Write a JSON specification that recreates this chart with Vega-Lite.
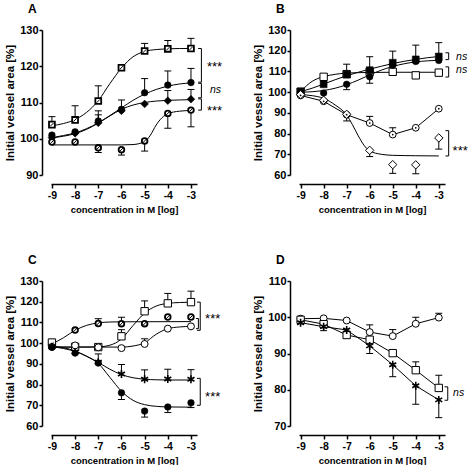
{
"$schema":"https://vega.github.io/schema/vega-lite/v6.json",
"padding":{"left":4,"top":3,"right":0,"bottom":0},
"background":"white",
"bounds":"flush",
"columns":2,
"spacing":{"row":106,"column":102},
"config":{
 "view":{"stroke":null},
 "font":"Liberation Sans",
 "axis":{"grid":false,"domainColor":"black","domainWidth":1.5,"tickColor":"black","tickWidth":1.5,"tickSize":4,"labelColor":"black","labelFont":"Liberation Sans","labelFontWeight":"bold","titleColor":"black","titleFont":"Liberation Sans","titleFontWeight":"bold","offset":9,"labelPadding":2,"labelFlush":false,"labelOverlap":false},
 "axisX":{"labelFontSize":10.5,"titleFontSize":9.5,"titlePadding":4,"labelAngle":0},
 "axisY":{"labelFontSize":11,"titleFontSize":11.5,"titlePadding":4,"tickSize":3,"labelPadding":1},
 "title":{"font":"Liberation Sans","fontSize":12,"fontWeight":"bold","anchor":"start","frame":"group","color":"black"}
},
"datasets":{
"points":[
{"panel":"A","marker":"bold open square","x":-9,"y":103.9,"cap":106.1},
{"panel":"A","marker":"bold open square","x":-8,"y":105.2,"cap":109.1},
{"panel":"A","marker":"bold open square","x":-7,"y":110.4,"cap":114.6},
{"panel":"A","marker":"bold open square","x":-6,"y":119.6,"cap":null},
{"panel":"A","marker":"bold open square","x":-5,"y":124.2,"cap":126.3},
{"panel":"A","marker":"bold open square","x":-4,"y":124.8,"cap":127.1},
{"panel":"A","marker":"bold open square","x":-3,"y":124.9,"cap":127.7},
{"panel":"A","marker":"filled circle","x":-9,"y":101.0,"cap":null},
{"panel":"A","marker":"filled circle","x":-8,"y":101.9,"cap":null},
{"panel":"A","marker":"filled circle","x":-7,"y":104.9,"cap":107.7},
{"panel":"A","marker":"filled circle","x":-6,"y":108.1,"cap":110.7},
{"panel":"A","marker":"filled circle","x":-5,"y":112.7,"cap":116.6},
{"panel":"A","marker":"filled circle","x":-4,"y":114.8,"cap":118.7},
{"panel":"A","marker":"filled circle","x":-3,"y":115.5,"cap":119.4},
{"panel":"A","marker":"filled diamond","x":-9,"y":100.3,"cap":null},
{"panel":"A","marker":"filled diamond","x":-8,"y":101.5,"cap":null},
{"panel":"A","marker":"filled diamond","x":-7,"y":104.4,"cap":106.6},
{"panel":"A","marker":"filled diamond","x":-6,"y":107.7,"cap":null},
{"panel":"A","marker":"filled diamond","x":-5,"y":109.6,"cap":null},
{"panel":"A","marker":"filled diamond","x":-4,"y":110.5,"cap":113.3},
{"panel":"A","marker":"filled diamond","x":-3,"y":110.9,"cap":113.6},
{"panel":"A","marker":"bold open circle","x":-9,"y":99.1,"cap":null},
{"panel":"A","marker":"bold open circle","x":-8,"y":99.1,"cap":null},
{"panel":"A","marker":"bold open circle","x":-7,"y":97.5,"cap":96.2},
{"panel":"A","marker":"bold open circle","x":-6,"y":97.0,"cap":95.5},
{"panel":"A","marker":"bold open circle","x":-5,"y":99.4,"cap":96.6},
{"panel":"A","marker":"bold open circle","x":-4,"y":107.0,"cap":102.9},
{"panel":"A","marker":"bold open circle","x":-3,"y":107.9,"cap":103.3},
{"panel":"B","marker":"open square","x":-9,"y":100.2,"cap":null},
{"panel":"B","marker":"open square","x":-8,"y":107.4,"cap":null},
{"panel":"B","marker":"open square","x":-7,"y":108.7,"cap":null},
{"panel":"B","marker":"open square","x":-6,"y":109.8,"cap":null},
{"panel":"B","marker":"open square","x":-5,"y":109.8,"cap":null},
{"panel":"B","marker":"open square","x":-4,"y":108.1,"cap":null},
{"panel":"B","marker":"open square","x":-3,"y":109.4,"cap":null},
{"panel":"B","marker":"filled square","x":-9,"y":100.3,"cap":null},
{"panel":"B","marker":"filled square","x":-8,"y":103.8,"cap":null},
{"panel":"B","marker":"filled square","x":-7,"y":108.5,"cap":113.5},
{"panel":"B","marker":"filled square","x":-6,"y":110.6,"cap":117.1},
{"panel":"B","marker":"filled square","x":-5,"y":114.2,"cap":119.8},
{"panel":"B","marker":"filled square","x":-4,"y":115.8,"cap":122.7},
{"panel":"B","marker":"filled square","x":-3,"y":117.2,"cap":123.9},
{"panel":"B","marker":"filled circle","x":-9,"y":99.6,"cap":null},
{"panel":"B","marker":"filled circle","x":-8,"y":99.6,"cap":null},
{"panel":"B","marker":"filled circle","x":-7,"y":103.8,"cap":101.2},
{"panel":"B","marker":"filled circle","x":-6,"y":107.4,"cap":104.3},
{"panel":"B","marker":"filled circle","x":-5,"y":113.0,"cap":null},
{"panel":"B","marker":"filled circle","x":-4,"y":114.8,"cap":null},
{"panel":"B","marker":"filled circle","x":-3,"y":115.3,"cap":null},
{"panel":"B","marker":"dotted open circle","x":-9,"y":98.4,"cap":null},
{"panel":"B","marker":"dotted open circle","x":-8,"y":95.6,"cap":null},
{"panel":"B","marker":"dotted open circle","x":-7,"y":89.1,"cap":null},
{"panel":"B","marker":"dotted open circle","x":-6,"y":85.1,"cap":88.3},
{"panel":"B","marker":"dotted open circle","x":-5,"y":79.5,"cap":82.8},
{"panel":"B","marker":"dotted open circle","x":-4,"y":82.8,"cap":null},
{"panel":"B","marker":"dotted open circle","x":-3,"y":92.0,"cap":null},
{"panel":"B","marker":"open diamond","x":-9,"y":98.8,"cap":null},
{"panel":"B","marker":"open diamond","x":-8,"y":96.1,"cap":null},
{"panel":"B","marker":"open diamond","x":-7,"y":89.3,"cap":86.1},
{"panel":"B","marker":"open diamond","x":-6,"y":71.9,"cap":68.9},
{"panel":"B","marker":"open diamond","x":-5,"y":65.0,"cap":60.8},
{"panel":"B","marker":"open diamond","x":-4,"y":64.9,"cap":60.6},
{"panel":"B","marker":"open diamond","x":-3,"y":77.9,"cap":72.5},
{"panel":"C","marker":"bold open circle","x":-9,"y":99.5,"cap":null},
{"panel":"C","marker":"bold open circle","x":-8,"y":106.3,"cap":null},
{"panel":"C","marker":"bold open circle","x":-7,"y":109.5,"cap":111.8},
{"panel":"C","marker":"bold open circle","x":-6,"y":109.4,"cap":112.5},
{"panel":"C","marker":"bold open circle","x":-5,"y":109.4,"cap":null},
{"panel":"C","marker":"bold open circle","x":-4,"y":112.6,"cap":null},
{"panel":"C","marker":"bold open circle","x":-3,"y":112.6,"cap":null},
{"panel":"C","marker":"open square","x":-9,"y":100.3,"cap":null},
{"panel":"C","marker":"open square","x":-8,"y":98.2,"cap":null},
{"panel":"C","marker":"open square","x":-7,"y":98.1,"cap":null},
{"panel":"C","marker":"open square","x":-6,"y":103.3,"cap":106.5},
{"panel":"C","marker":"open square","x":-5,"y":115.4,"cap":120.4},
{"panel":"C","marker":"open square","x":-4,"y":119.2,"cap":124.0},
{"panel":"C","marker":"open square","x":-3,"y":119.8,"cap":125.1},
{"panel":"C","marker":"open circle","x":-9,"y":98.2,"cap":null},
{"panel":"C","marker":"open circle","x":-8,"y":98.9,"cap":null},
{"panel":"C","marker":"open circle","x":-7,"y":98.0,"cap":null},
{"panel":"C","marker":"open circle","x":-6,"y":97.6,"cap":null},
{"panel":"C","marker":"open circle","x":-5,"y":99.6,"cap":102.1},
{"panel":"C","marker":"open circle","x":-4,"y":107.0,"cap":null},
{"panel":"C","marker":"open circle","x":-3,"y":108.1,"cap":null},
{"panel":"C","marker":"asterisk","x":-9,"y":98.2,"cap":null},
{"panel":"C","marker":"asterisk","x":-8,"y":95.7,"cap":null},
{"panel":"C","marker":"asterisk","x":-7,"y":90.8,"cap":94.8},
{"panel":"C","marker":"asterisk","x":-6,"y":85.1,"cap":89.7},
{"panel":"C","marker":"asterisk","x":-5,"y":82.6,"cap":87.1},
{"panel":"C","marker":"asterisk","x":-4,"y":82.7,"cap":87.4},
{"panel":"C","marker":"asterisk","x":-3,"y":82.6,"cap":87.2},
{"panel":"C","marker":"filled circle","x":-9,"y":98.0,"cap":null},
{"panel":"C","marker":"filled circle","x":-8,"y":95.2,"cap":null},
{"panel":"C","marker":"filled circle","x":-7,"y":90.4,"cap":null},
{"panel":"C","marker":"filled circle","x":-6,"y":76.0,"cap":72.8},
{"panel":"C","marker":"filled circle","x":-5,"y":67.2,"cap":64.3},
{"panel":"C","marker":"filled circle","x":-4,"y":69.2,"cap":66.5},
{"panel":"C","marker":"filled circle","x":-3,"y":71.2,"cap":68.9},
{"panel":"D","marker":"open circle","x":-9,"y":99.6,"cap":null},
{"panel":"D","marker":"open circle","x":-8,"y":99.7,"cap":null},
{"panel":"D","marker":"open circle","x":-7,"y":99.1,"cap":null},
{"panel":"D","marker":"open circle","x":-6,"y":95.9,"cap":97.9},
{"panel":"D","marker":"open circle","x":-5,"y":94.8,"cap":96.6},
{"panel":"D","marker":"open circle","x":-4,"y":98.2,"cap":100.0},
{"panel":"D","marker":"open circle","x":-3,"y":99.9,"cap":101.1},
{"panel":"D","marker":"open square","x":-9,"y":99.3,"cap":null},
{"panel":"D","marker":"open square","x":-8,"y":98.1,"cap":96.3},
{"panel":"D","marker":"open square","x":-7,"y":95.1,"cap":null},
{"panel":"D","marker":"open square","x":-6,"y":93.8,"cap":null},
{"panel":"D","marker":"open square","x":-5,"y":90.1,"cap":null},
{"panel":"D","marker":"open square","x":-4,"y":85.4,"cap":87.7},
{"panel":"D","marker":"open square","x":-3,"y":80.5,"cap":84.0},
{"panel":"D","marker":"asterisk","x":-9,"y":98.5,"cap":null},
{"panel":"D","marker":"asterisk","x":-8,"y":97.4,"cap":null},
{"panel":"D","marker":"asterisk","x":-7,"y":96.5,"cap":null},
{"panel":"D","marker":"asterisk","x":-6,"y":92.1,"cap":90.0},
{"panel":"D","marker":"asterisk","x":-5,"y":86.9,"cap":83.6},
{"panel":"D","marker":"asterisk","x":-4,"y":81.1,"cap":76.0},
{"panel":"D","marker":"asterisk","x":-3,"y":77.2,"cap":72.3}
],
"fits":[
{"panel":"A","series":"bold open square","x":-9,"y":103.6},{"panel":"A","series":"bold open square","x":-8.5,"y":104.2},{"panel":"A","series":"bold open square","x":-8,"y":105.3},{"panel":"A","series":"bold open square","x":-7.5,"y":107.3},{"panel":"A","series":"bold open square","x":-7,"y":110.5},{"panel":"A","series":"bold open square","x":-6.5,"y":115.2},{"panel":"A","series":"bold open square","x":-6,"y":119.5},{"panel":"A","series":"bold open square","x":-5.5,"y":122.6},{"panel":"A","series":"bold open square","x":-5,"y":124.1},{"panel":"A","series":"bold open square","x":-4.5,"y":124.6},{"panel":"A","series":"bold open square","x":-4,"y":124.8},{"panel":"A","series":"bold open square","x":-3.5,"y":124.9},{"panel":"A","series":"bold open square","x":-3,"y":124.9},
{"panel":"A","series":"filled circle","x":-9,"y":100.3},{"panel":"A","series":"filled circle","x":-8.5,"y":100.9},{"panel":"A","series":"filled circle","x":-8,"y":101.6},{"panel":"A","series":"filled circle","x":-7.5,"y":102.8},{"panel":"A","series":"filled circle","x":-7,"y":104.4},{"panel":"A","series":"filled circle","x":-6.5,"y":106.4},{"panel":"A","series":"filled circle","x":-6,"y":108.5},{"panel":"A","series":"filled circle","x":-5.5,"y":110.6},{"panel":"A","series":"filled circle","x":-5,"y":112.3},{"panel":"A","series":"filled circle","x":-4.5,"y":113.6},{"panel":"A","series":"filled circle","x":-4,"y":114.5},{"panel":"A","series":"filled circle","x":-3.5,"y":115.1},{"panel":"A","series":"filled circle","x":-3,"y":115.4},
{"panel":"A","series":"filled diamond","x":-9,"y":100.2},{"panel":"A","series":"filled diamond","x":-8.5,"y":100.7},{"panel":"A","series":"filled diamond","x":-8,"y":101.4},{"panel":"A","series":"filled diamond","x":-7.5,"y":102.6},{"panel":"A","series":"filled diamond","x":-7,"y":104.3},{"panel":"A","series":"filled diamond","x":-6.5,"y":106.3},{"panel":"A","series":"filled diamond","x":-6,"y":108.1},{"panel":"A","series":"filled diamond","x":-5.5,"y":109.3},{"panel":"A","series":"filled diamond","x":-5,"y":110.0},{"panel":"A","series":"filled diamond","x":-4.5,"y":110.4},{"panel":"A","series":"filled diamond","x":-4,"y":110.6},{"panel":"A","series":"filled diamond","x":-3.5,"y":110.7},{"panel":"A","series":"filled diamond","x":-3,"y":110.8},
{"panel":"A","series":"bold open circle","x":-9,"y":98.3},{"panel":"A","series":"bold open circle","x":-8,"y":98.3},{"panel":"A","series":"bold open circle","x":-7,"y":98.3},{"panel":"A","series":"bold open circle","x":-6,"y":98.3},{"panel":"A","series":"bold open circle","x":-5.5,"y":98.4},{"panel":"A","series":"bold open circle","x":-5,"y":99.2},{"panel":"A","series":"bold open circle","x":-4.75,"y":101.0},{"panel":"A","series":"bold open circle","x":-4.5,"y":103.8},{"panel":"A","series":"bold open circle","x":-4.25,"y":105.8},{"panel":"A","series":"bold open circle","x":-4,"y":106.9},{"panel":"A","series":"bold open circle","x":-3.5,"y":107.6},{"panel":"A","series":"bold open circle","x":-3,"y":107.8},
{"panel":"B","series":"open square","x":-9,"y":100.2},{"panel":"B","series":"open square","x":-8.75,"y":103.0},{"panel":"B","series":"open square","x":-8.5,"y":105.2},{"panel":"B","series":"open square","x":-8.25,"y":106.6},{"panel":"B","series":"open square","x":-8,"y":107.5},{"panel":"B","series":"open square","x":-7.5,"y":108.6},{"panel":"B","series":"open square","x":-7,"y":109.2},{"panel":"B","series":"open square","x":-6,"y":109.5},{"panel":"B","series":"open square","x":-5,"y":109.6},{"panel":"B","series":"open square","x":-4,"y":109.6},{"panel":"B","series":"open square","x":-3,"y":109.6},
{"panel":"B","series":"filled square","x":-9,"y":100.2},{"panel":"B","series":"filled square","x":-8.5,"y":101.9},{"panel":"B","series":"filled square","x":-8,"y":103.9},{"panel":"B","series":"filled square","x":-7.5,"y":106.0},{"panel":"B","series":"filled square","x":-7,"y":107.9},{"panel":"B","series":"filled square","x":-6.5,"y":109.6},{"panel":"B","series":"filled square","x":-6,"y":111.1},{"panel":"B","series":"filled square","x":-5.5,"y":112.5},{"panel":"B","series":"filled square","x":-5,"y":113.8},{"panel":"B","series":"filled square","x":-4.5,"y":114.9},{"panel":"B","series":"filled square","x":-4,"y":115.8},{"panel":"B","series":"filled square","x":-3.5,"y":116.6},{"panel":"B","series":"filled square","x":-3,"y":117.2},
{"panel":"B","series":"filled circle","x":-9,"y":99.9},{"panel":"B","series":"filled circle","x":-8.5,"y":100.2},{"panel":"B","series":"filled circle","x":-8,"y":100.8},{"panel":"B","series":"filled circle","x":-7.5,"y":101.9},{"panel":"B","series":"filled circle","x":-7,"y":103.6},{"panel":"B","series":"filled circle","x":-6.5,"y":105.8},{"panel":"B","series":"filled circle","x":-6,"y":108.3},{"panel":"B","series":"filled circle","x":-5.5,"y":110.6},{"panel":"B","series":"filled circle","x":-5,"y":112.4},{"panel":"B","series":"filled circle","x":-4.5,"y":113.7},{"panel":"B","series":"filled circle","x":-4,"y":114.6},{"panel":"B","series":"filled circle","x":-3.5,"y":115.1},{"panel":"B","series":"filled circle","x":-3,"y":115.4},
{"panel":"B","series":"open diamond","x":-9,"y":98.8},{"panel":"B","series":"open diamond","x":-8.5,"y":98.3},{"panel":"B","series":"open diamond","x":-8,"y":97.0},{"panel":"B","series":"open diamond","x":-7.5,"y":93.8},{"panel":"B","series":"open diamond","x":-7,"y":88.9},{"panel":"B","series":"open diamond","x":-6.75,"y":84.3},{"panel":"B","series":"open diamond","x":-6.5,"y":79.0},{"panel":"B","series":"open diamond","x":-6.25,"y":74.4},{"panel":"B","series":"open diamond","x":-6,"y":71.6},{"panel":"B","series":"open diamond","x":-5.5,"y":70.0},{"panel":"B","series":"open diamond","x":-5,"y":69.5},{"panel":"B","series":"open diamond","x":-4,"y":69.3},{"panel":"B","series":"open diamond","x":-3,"y":69.2},
{"panel":"C","series":"bold open circle","x":-9,"y":99.6},{"panel":"C","series":"bold open circle","x":-8.5,"y":102.6},{"panel":"C","series":"bold open circle","x":-8,"y":106.2},{"panel":"C","series":"bold open circle","x":-7.5,"y":108.6},{"panel":"C","series":"bold open circle","x":-7,"y":109.8},{"panel":"C","series":"bold open circle","x":-6.5,"y":110.2},{"panel":"C","series":"bold open circle","x":-6,"y":110.3},{"panel":"C","series":"bold open circle","x":-3,"y":110.4},
{"panel":"C","series":"open square","x":-9,"y":98.1},{"panel":"C","series":"open square","x":-8,"y":98.1},{"panel":"C","series":"open square","x":-7,"y":98.2},{"panel":"C","series":"open square","x":-6.5,"y":99.0},{"panel":"C","series":"open square","x":-6,"y":102.0},{"panel":"C","series":"open square","x":-5.5,"y":108.5},{"panel":"C","series":"open square","x":-5,"y":114.5},{"panel":"C","series":"open square","x":-4.5,"y":117.9},{"panel":"C","series":"open square","x":-4,"y":119.2},{"panel":"C","series":"open square","x":-3.5,"y":119.6},{"panel":"C","series":"open square","x":-3,"y":119.8},
{"panel":"C","series":"open circle","x":-9,"y":98.1},{"panel":"C","series":"open circle","x":-6,"y":98.1},{"panel":"C","series":"open circle","x":-5.5,"y":98.6},{"panel":"C","series":"open circle","x":-5,"y":100.2},{"panel":"C","series":"open circle","x":-4.5,"y":104.3},{"panel":"C","series":"open circle","x":-4,"y":107.0},{"panel":"C","series":"open circle","x":-3.5,"y":107.8},{"panel":"C","series":"open circle","x":-3,"y":108.1},
{"panel":"C","series":"asterisk","x":-9,"y":98.3},{"panel":"C","series":"asterisk","x":-8.5,"y":97.4},{"panel":"C","series":"asterisk","x":-8,"y":96.0},{"panel":"C","series":"asterisk","x":-7.5,"y":93.7},{"panel":"C","series":"asterisk","x":-7,"y":90.7},{"panel":"C","series":"asterisk","x":-6.5,"y":87.4},{"panel":"C","series":"asterisk","x":-6,"y":84.8},{"panel":"C","series":"asterisk","x":-5.5,"y":83.3},{"panel":"C","series":"asterisk","x":-5,"y":82.6},{"panel":"C","series":"asterisk","x":-4.5,"y":82.3},{"panel":"C","series":"asterisk","x":-4,"y":82.2},{"panel":"C","series":"asterisk","x":-3,"y":82.2},
{"panel":"C","series":"filled circle","x":-9,"y":98.5},{"panel":"C","series":"filled circle","x":-8.5,"y":97.8},{"panel":"C","series":"filled circle","x":-8,"y":96.2},{"panel":"C","series":"filled circle","x":-7.5,"y":93.6},{"panel":"C","series":"filled circle","x":-7,"y":90.2},{"panel":"C","series":"filled circle","x":-6.5,"y":83.5},{"panel":"C","series":"filled circle","x":-6,"y":76.8},{"panel":"C","series":"filled circle","x":-5.5,"y":72.4},{"panel":"C","series":"filled circle","x":-5,"y":70.3},{"panel":"C","series":"filled circle","x":-4.5,"y":69.5},{"panel":"C","series":"filled circle","x":-4,"y":69.2},{"panel":"C","series":"filled circle","x":-3,"y":69.1}
],
"segments":[
{"panel":"A","x":-2.55,"y":124.9,"x2":-2.55,"y2":115.6},{"panel":"A","x":-2.69,"y":124.9,"x2":-2.55,"y2":124.9},{"panel":"A","x":-2.69,"y":115.6,"x2":-2.55,"y2":115.6},
{"panel":"A","x":-2.55,"y":115.3,"x2":-2.55,"y2":111.3},{"panel":"A","x":-2.69,"y":115.3,"x2":-2.55,"y2":115.3},{"panel":"A","x":-2.69,"y":111.3,"x2":-2.55,"y2":111.3},
{"panel":"A","x":-2.55,"y":111.0,"x2":-2.55,"y2":107.9},{"panel":"A","x":-2.69,"y":111.0,"x2":-2.55,"y2":111.0},{"panel":"A","x":-2.69,"y":107.9,"x2":-2.55,"y2":107.9},
{"panel":"B","x":-2.57,"y":119.0,"x2":-2.57,"y2":115.7},{"panel":"B","x":-2.71,"y":119.0,"x2":-2.57,"y2":119.0},{"panel":"B","x":-2.71,"y":115.7,"x2":-2.57,"y2":115.7},
{"panel":"B","x":-2.57,"y":112.2,"x2":-2.57,"y2":107.3},{"panel":"B","x":-2.71,"y":112.2,"x2":-2.57,"y2":112.2},{"panel":"B","x":-2.71,"y":107.3,"x2":-2.57,"y2":107.3},
{"panel":"B","x":-2.57,"y":81.4,"x2":-2.57,"y2":69.2},{"panel":"B","x":-2.71,"y":81.4,"x2":-2.57,"y2":81.4},{"panel":"B","x":-2.71,"y":69.2,"x2":-2.57,"y2":69.2},
{"panel":"C","x":-2.6,"y":119.8,"x2":-2.6,"y2":106.2},{"panel":"C","x":-2.74,"y":119.8,"x2":-2.6,"y2":119.8},{"panel":"C","x":-2.74,"y":106.2,"x2":-2.6,"y2":106.2},
{"panel":"C","x":-2.68,"y":111.9,"x2":-2.68,"y2":107.0},{"panel":"C","x":-2.78,"y":111.9,"x2":-2.68,"y2":111.9},{"panel":"C","x":-2.78,"y":107.0,"x2":-2.68,"y2":107.0},
{"panel":"C","x":-2.6,"y":83.0,"x2":-2.6,"y2":70.0},{"panel":"C","x":-2.74,"y":83.0,"x2":-2.6,"y2":83.0},{"panel":"C","x":-2.74,"y":70.0,"x2":-2.6,"y2":70.0},
{"panel":"D","x":-2.61,"y":80.8,"x2":-2.61,"y2":77.1},{"panel":"D","x":-2.75,"y":80.8,"x2":-2.61,"y2":80.8},{"panel":"D","x":-2.75,"y":77.1,"x2":-2.61,"y2":77.1}
],
"notes":[
{"panel":"A","x":-2.31,"y":120.8,"label":"***"},{"panel":"A","x":-2.18,"y":113.4,"label":"ns"},{"panel":"A","x":-2.31,"y":108.8,"label":"***"},
{"panel":"B","x":-2.25,"y":117.0,"label":"ns"},{"panel":"B","x":-2.25,"y":110.6,"label":"ns"},{"panel":"B","x":-2.4,"y":73.3,"label":"***"},
{"panel":"C","x":-2.39,"y":113.8,"label":"***"},{"panel":"C","x":-2.39,"y":76.0,"label":"***"},
{"panel":"D","x":-2.38,"y":79.2,"label":"ns"}
]
},
"concat":[
{"width":146,"height":145,"title":{"text":"A","dx":-23,"offset":8},
 "encoding":{
  "x":{"field":"x","type":"quantitative","title":"concentration in M [log]","scale":{"domain":[-9.04,-2.74],"nice":false,"zero":false},"axis":{"values":[-9,-8,-7,-6,-5,-4,-3],"labelExpr":"'' + datum.value"}},
  "y":{"field":"y","type":"quantitative","title":"Initial vessel area [%]","scale":{"domain":[90,130],"nice":false,"zero":false},"axis":{"values":[90,100,110,120,130]}}
 },
 "layer":[
  {"data":{"name":"fits"},"transform":[{"filter":"datum.panel === 'A'"}],"mark":{"type":"line","stroke":"black","strokeWidth":1,"interpolate":"monotone"},"encoding":{"detail":{"field":"series"}}},
  {"data":{"name":"points"},"transform":[{"filter":"datum.panel === 'A' && isValid(datum.cap)"}],"mark":{"type":"rule","stroke":"black","strokeWidth":1},"encoding":{"y2":{"field":"cap"}}},
  {"data":{"name":"points"},"transform":[{"filter":"datum.panel === 'A' && isValid(datum.cap)"}],"mark":{"type":"tick","orient":"horizontal","color":"black","size":7,"thickness":1,"opacity":1},"encoding":{"y":{"field":"cap","type":"quantitative","title":"Initial vessel area [%]","scale":{"domain":[90,130],"nice":false,"zero":false},"axis":{"values":[90,100,110,120,130]}}}},
  {"data":{"name":"points"},"transform":[{"filter":"datum.panel === 'A'"}],"mark":{"type":"point","filled":true,"stroke":"black","opacity":1},
   "encoding":{
    "shape":{"field":"marker","type":"nominal","legend":null,"scale":{"domain":["bold open square","filled circle","filled diamond","bold open circle","open square","filled square","dotted open circle","open diamond","open circle","asterisk"],"range":["square","circle","diamond","circle","square","square","circle","diamond","circle","M0,-1L0,1M-0.87,-0.5L0.87,0.5M-0.87,0.5L0.87,-0.5"]}},
    "fill":{"field":"marker","type":"nominal","legend":null,"scale":{"domain":["bold open square","filled circle","filled diamond","bold open circle","open square","filled square","dotted open circle","open diamond","open circle","asterisk"],"range":["white","black","black","white","white","black","white","white","white","black"]}},
    "strokeWidth":{"field":"marker","type":"nominal","legend":null,"scale":{"type":"ordinal","domain":["bold open square","filled circle","filled diamond","bold open circle","open square","filled square","dotted open circle","open diamond","open circle","asterisk"],"range":[1.8,0.5,0.5,1.8,1,0.5,1,1,1,1.6]}},
    "size":{"field":"marker","type":"nominal","legend":null,"scale":{"type":"ordinal","domain":["bold open square","filled circle","filled diamond","bold open circle","open square","filled square","dotted open circle","open diamond","open circle","asterisk"],"range":[34,44,60,32,54,48,46,70,48,64]}}
   }},
  {"data":{"name":"points"},"transform":[{"filter":"datum.panel === 'A' && (datum.marker === 'bold open square' || datum.marker === 'bold open circle')"}],"mark":{"type":"point","shape":"M-0.6,0.6L0.6,-0.6","filled":false,"stroke":"black","strokeWidth":1,"size":30,"opacity":1}},
  {"data":{"name":"segments"},"transform":[{"filter":"datum.panel === 'A'"}],"mark":{"type":"rule","stroke":"black","strokeWidth":1},"encoding":{"x2":{"field":"x2"},"y2":{"field":"y2"}}},
  {"data":{"name":"notes"},"transform":[{"filter":"datum.panel === 'A' && datum.label === '***'"}],"mark":{"type":"text","align":"left","baseline":"middle","fontSize":13,"dy":4,"font":"Liberation Sans","color":"black"},"encoding":{"text":{"field":"label"}}},
  {"data":{"name":"notes"},"transform":[{"filter":"datum.panel === 'A' && datum.label === 'ns'"}],"mark":{"type":"text","align":"left","baseline":"middle","fontSize":10.5,"fontStyle":"italic","font":"Liberation Sans","color":"black"},"encoding":{"text":{"field":"label"}}}
 ]},
{"width":146,"height":145,"title":{"text":"B","dx":-23,"offset":8},
 "encoding":{
  "x":{"field":"x","type":"quantitative","title":"concentration in M [log]","scale":{"domain":[-9.07,-2.73],"nice":false,"zero":false},"axis":{"values":[-9,-8,-7,-6,-5,-4,-3],"labelExpr":"'' + datum.value"}},
  "y":{"field":"y","type":"quantitative","title":"Initial vessel area [%]","scale":{"domain":[60,130],"nice":false,"zero":false},"axis":{"values":[60,70,80,90,100,110,120,130]}}
 },
 "layer":[
  {"data":{"name":"fits"},"transform":[{"filter":"datum.panel === 'B'"}],"mark":{"type":"line","stroke":"black","strokeWidth":1,"interpolate":"monotone"},"encoding":{"detail":{"field":"series"}}},
  {"data":{"name":"points"},"transform":[{"filter":"datum.panel === 'B' && datum.marker === 'dotted open circle'"}],"mark":{"type":"line","stroke":"black","strokeWidth":1}},
  {"data":{"name":"points"},"transform":[{"filter":"datum.panel === 'B' && isValid(datum.cap)"}],"mark":{"type":"rule","stroke":"black","strokeWidth":1},"encoding":{"y2":{"field":"cap"}}},
  {"data":{"name":"points"},"transform":[{"filter":"datum.panel === 'B' && isValid(datum.cap)"}],"mark":{"type":"tick","orient":"horizontal","color":"black","size":7,"thickness":1,"opacity":1},"encoding":{"y":{"field":"cap","type":"quantitative","title":"Initial vessel area [%]","scale":{"domain":[60,130],"nice":false,"zero":false},"axis":{"values":[60,70,80,90,100,110,120,130]}}}},
  {"data":{"name":"points"},"transform":[{"filter":"datum.panel === 'B'"}],"mark":{"type":"point","filled":true,"stroke":"black","opacity":1},
   "encoding":{
    "shape":{"field":"marker","type":"nominal","legend":null,"scale":{"domain":["bold open square","filled circle","filled diamond","bold open circle","open square","filled square","dotted open circle","open diamond","open circle","asterisk"],"range":["square","circle","diamond","circle","square","square","circle","diamond","circle","M0,-1L0,1M-0.87,-0.5L0.87,0.5M-0.87,0.5L0.87,-0.5"]}},
    "fill":{"field":"marker","type":"nominal","legend":null,"scale":{"domain":["bold open square","filled circle","filled diamond","bold open circle","open square","filled square","dotted open circle","open diamond","open circle","asterisk"],"range":["white","black","black","white","white","black","white","white","white","black"]}},
    "strokeWidth":{"field":"marker","type":"nominal","legend":null,"scale":{"type":"ordinal","domain":["bold open square","filled circle","filled diamond","bold open circle","open square","filled square","dotted open circle","open diamond","open circle","asterisk"],"range":[1.8,0.5,0.5,1.8,1,0.5,1,1,1,1.6]}},
    "size":{"field":"marker","type":"nominal","legend":null,"scale":{"type":"ordinal","domain":["bold open square","filled circle","filled diamond","bold open circle","open square","filled square","dotted open circle","open diamond","open circle","asterisk"],"range":[34,44,60,32,54,48,46,70,48,64]}}
   }},
  {"data":{"name":"points"},"transform":[{"filter":"datum.panel === 'B' && datum.marker === 'dotted open circle'"}],"mark":{"type":"point","shape":"circle","filled":true,"fill":"black","strokeWidth":0,"size":3,"opacity":1}},
  {"data":{"name":"segments"},"transform":[{"filter":"datum.panel === 'B'"}],"mark":{"type":"rule","stroke":"black","strokeWidth":1},"encoding":{"x2":{"field":"x2"},"y2":{"field":"y2"}}},
  {"data":{"name":"notes"},"transform":[{"filter":"datum.panel === 'B' && datum.label === '***'"}],"mark":{"type":"text","align":"left","baseline":"middle","fontSize":13,"dy":4,"font":"Liberation Sans","color":"black"},"encoding":{"text":{"field":"label"}}},
  {"data":{"name":"notes"},"transform":[{"filter":"datum.panel === 'B' && datum.label === 'ns'"}],"mark":{"type":"text","align":"left","baseline":"middle","fontSize":10.5,"fontStyle":"italic","font":"Liberation Sans","color":"black"},"encoding":{"text":{"field":"label"}}}
 ]},
{"width":146,"height":145,"title":{"text":"C","dx":-23,"offset":8},
 "encoding":{
  "x":{"field":"x","type":"quantitative","title":"concentration in M [log]","scale":{"domain":[-9.04,-2.74],"nice":false,"zero":false},"axis":{"values":[-9,-8,-7,-6,-5,-4,-3],"labelExpr":"'' + datum.value"}},
  "y":{"field":"y","type":"quantitative","title":"Initial vessel area [%]","scale":{"domain":[60,130],"nice":false,"zero":false},"axis":{"values":[60,70,80,90,100,110,120,130]}}
 },
 "layer":[
  {"data":{"name":"fits"},"transform":[{"filter":"datum.panel === 'C'"}],"mark":{"type":"line","stroke":"black","strokeWidth":1,"interpolate":"monotone"},"encoding":{"detail":{"field":"series"}}},
  {"data":{"name":"points"},"transform":[{"filter":"datum.panel === 'C' && isValid(datum.cap)"}],"mark":{"type":"rule","stroke":"black","strokeWidth":1},"encoding":{"y2":{"field":"cap"}}},
  {"data":{"name":"points"},"transform":[{"filter":"datum.panel === 'C' && isValid(datum.cap)"}],"mark":{"type":"tick","orient":"horizontal","color":"black","size":7,"thickness":1,"opacity":1},"encoding":{"y":{"field":"cap","type":"quantitative","title":"Initial vessel area [%]","scale":{"domain":[60,130],"nice":false,"zero":false},"axis":{"values":[60,70,80,90,100,110,120,130]}}}},
  {"data":{"name":"points"},"transform":[{"filter":"datum.panel === 'C'"}],"mark":{"type":"point","filled":true,"stroke":"black","opacity":1},
   "encoding":{
    "shape":{"field":"marker","type":"nominal","legend":null,"scale":{"domain":["bold open square","filled circle","filled diamond","bold open circle","open square","filled square","dotted open circle","open diamond","open circle","asterisk"],"range":["square","circle","diamond","circle","square","square","circle","diamond","circle","M0,-1L0,1M-0.87,-0.5L0.87,0.5M-0.87,0.5L0.87,-0.5"]}},
    "fill":{"field":"marker","type":"nominal","legend":null,"scale":{"domain":["bold open square","filled circle","filled diamond","bold open circle","open square","filled square","dotted open circle","open diamond","open circle","asterisk"],"range":["white","black","black","white","white","black","white","white","white","black"]}},
    "strokeWidth":{"field":"marker","type":"nominal","legend":null,"scale":{"type":"ordinal","domain":["bold open square","filled circle","filled diamond","bold open circle","open square","filled square","dotted open circle","open diamond","open circle","asterisk"],"range":[1.8,0.5,0.5,1.8,1,0.5,1,1,1,1.6]}},
    "size":{"field":"marker","type":"nominal","legend":null,"scale":{"type":"ordinal","domain":["bold open square","filled circle","filled diamond","bold open circle","open square","filled square","dotted open circle","open diamond","open circle","asterisk"],"range":[34,44,60,32,54,48,46,70,48,64]}}
   }},
  {"data":{"name":"points"},"transform":[{"filter":"datum.panel === 'C' && (datum.marker === 'bold open square' || datum.marker === 'bold open circle')"}],"mark":{"type":"point","shape":"M-0.6,0.6L0.6,-0.6","filled":false,"stroke":"black","strokeWidth":1,"size":30,"opacity":1}},
  {"data":{"name":"segments"},"transform":[{"filter":"datum.panel === 'C'"}],"mark":{"type":"rule","stroke":"black","strokeWidth":1},"encoding":{"x2":{"field":"x2"},"y2":{"field":"y2"}}},
  {"data":{"name":"notes"},"transform":[{"filter":"datum.panel === 'C' && datum.label === '***'"}],"mark":{"type":"text","align":"left","baseline":"middle","fontSize":13,"dy":4,"font":"Liberation Sans","color":"black"},"encoding":{"text":{"field":"label"}}}
 ]},
{"width":146,"height":145,"title":{"text":"D","dx":-23,"offset":8},
 "encoding":{
  "x":{"field":"x","type":"quantitative","title":"concentration in M [log]","scale":{"domain":[-9.07,-2.73],"nice":false,"zero":false},"axis":{"values":[-9,-8,-7,-6,-5,-4,-3],"labelExpr":"'' + datum.value"}},
  "y":{"field":"y","type":"quantitative","title":"Initial vessel area [%]","scale":{"domain":[70,110],"nice":false,"zero":false},"axis":{"values":[70,80,90,100,110]}}
 },
 "layer":[
  {"data":{"name":"points"},"transform":[{"filter":"datum.panel === 'D'"}],"mark":{"type":"line","stroke":"black","strokeWidth":1},"encoding":{"detail":{"field":"marker"}}},
  {"data":{"name":"points"},"transform":[{"filter":"datum.panel === 'D' && isValid(datum.cap)"}],"mark":{"type":"rule","stroke":"black","strokeWidth":1},"encoding":{"y2":{"field":"cap"}}},
  {"data":{"name":"points"},"transform":[{"filter":"datum.panel === 'D' && isValid(datum.cap)"}],"mark":{"type":"tick","orient":"horizontal","color":"black","size":7,"thickness":1,"opacity":1},"encoding":{"y":{"field":"cap","type":"quantitative","title":"Initial vessel area [%]","scale":{"domain":[70,110],"nice":false,"zero":false},"axis":{"values":[70,80,90,100,110]}}}},
  {"data":{"name":"points"},"transform":[{"filter":"datum.panel === 'D'"}],"mark":{"type":"point","filled":true,"stroke":"black","opacity":1},
   "encoding":{
    "shape":{"field":"marker","type":"nominal","legend":null,"scale":{"domain":["bold open square","filled circle","filled diamond","bold open circle","open square","filled square","dotted open circle","open diamond","open circle","asterisk"],"range":["square","circle","diamond","circle","square","square","circle","diamond","circle","M0,-1L0,1M-0.87,-0.5L0.87,0.5M-0.87,0.5L0.87,-0.5"]}},
    "fill":{"field":"marker","type":"nominal","legend":null,"scale":{"domain":["bold open square","filled circle","filled diamond","bold open circle","open square","filled square","dotted open circle","open diamond","open circle","asterisk"],"range":["white","black","black","white","white","black","white","white","white","black"]}},
    "strokeWidth":{"field":"marker","type":"nominal","legend":null,"scale":{"type":"ordinal","domain":["bold open square","filled circle","filled diamond","bold open circle","open square","filled square","dotted open circle","open diamond","open circle","asterisk"],"range":[1.8,0.5,0.5,1.8,1,0.5,1,1,1,1.6]}},
    "size":{"field":"marker","type":"nominal","legend":null,"scale":{"type":"ordinal","domain":["bold open square","filled circle","filled diamond","bold open circle","open square","filled square","dotted open circle","open diamond","open circle","asterisk"],"range":[34,44,60,32,54,48,46,70,48,64]}}
   }},
  {"data":{"name":"segments"},"transform":[{"filter":"datum.panel === 'D'"}],"mark":{"type":"rule","stroke":"black","strokeWidth":1},"encoding":{"x2":{"field":"x2"},"y2":{"field":"y2"}}},
  {"data":{"name":"notes"},"transform":[{"filter":"datum.panel === 'D' && datum.label === 'ns'"}],"mark":{"type":"text","align":"left","baseline":"middle","fontSize":10.5,"fontStyle":"italic","font":"Liberation Sans","color":"black"},"encoding":{"text":{"field":"label"}}}
 ]}
]
}
